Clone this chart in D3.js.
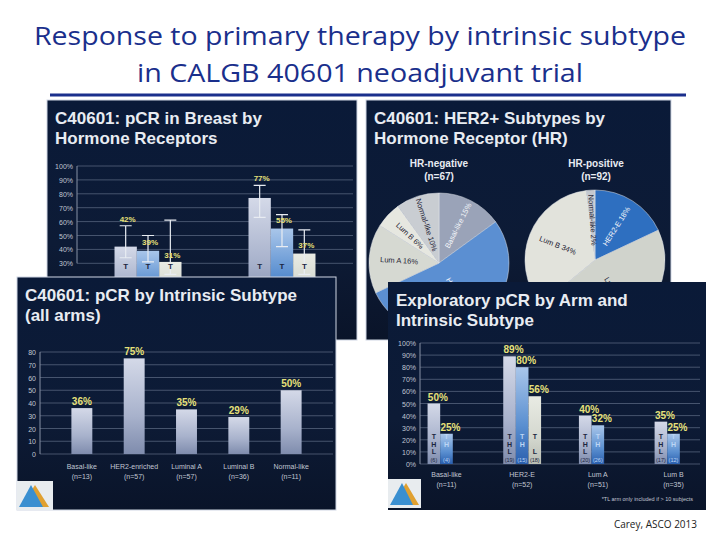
<!DOCTYPE html><html><head><meta charset="utf-8">
<script src="https://cdn.jsdelivr.net/npm/d3@7/dist/d3.min.js"></script>
<style>body{margin:0;background:#fff}svg{display:block}</style></head><body>
<svg id="s" width="720" height="540"></svg>
<script>
const titleLines=["Response to primary therapy by intrinsic subtype","in CALGB 40601 neoadjuvant trial"];
// Panel A
const aGroups=["HR-negative","HR-positive"];
const aValues=[[42,39,31],[77,55,37]];
const aErr=[[[34,57],[31,50],[22,61]],[[63,86],[42,65],[22,54]]];
const aTicks=[30,40,50,60,70,80,90,100];
// Panel B
const bNegLabels=["Basal-like 15%","HER2-E 53%","Lum A 16%","Lum B 6%","Normal-like 10%"];
const bNegValues=[15,53,16,6,10];
const bPosLabels=["HER2-E 18%","Lum A 46%","Lum B 34%","Normal-like 2%"];
const bPosValues=[18,46,34,2];
// Panel C
const cCats=["Basal-like","HER2-enriched","Luminal A","Luminal B","Normal-like"];
const cN=["(n=13)","(n=57)","(n=57)","(n=36)","(n=11)"];
const cValues=[36,75,35,29,50];
const cTicks=[0,10,20,30,40,50,60,70,80];
// Panel D
const dCats=["Basal-like","HER2-E","Lum A","Lum B"];
const dN=["(n=11)","(n=52)","(n=51)","(n=35)"];
const dArms=["THL","TH","TL"];
const dValues=[[50,25,null],[89,80,56],[40,32,null],[35,25,null]];
const dCounts=[["(6)","(4)",null],["(19)","(15)","(18)"],["(20)","(26)",null],["(17)","(12)",null]];
const dTicks=[0,10,20,30,40,50,60,70,80,90,100];

const svg=d3.select("#s");
const defs=svg.append("defs");
function grad(id,c1,c2,c3){const g=defs.append("linearGradient").attr("id",id).attr("x1",0).attr("x2",0).attr("y1",0).attr("y2",1);
 g.append("stop").attr("offset","0%").attr("stop-color",c1);g.append("stop").attr("offset","60%").attr("stop-color",c2);g.append("stop").attr("offset","100%").attr("stop-color",c3);}
grad("bg","#0a1a38","#0d1b36","#0a1429");
grad("g0","#d4d9e8","#a8b2cc","#7f8cad");
grad("g1","#a9c6ea","#5a8fd0","#2a5fae");
grad("g2","#e9ebe4","#d4d8cf","#b9bdb4");
const fills=["url(#g0)","url(#g1)","url(#g2)"];
const SF="Liberation Sans, Arial, sans-serif";

svg.selectAll("text.t").data(titleLines).join("text").attr("x",360).attr("y",(d,i)=>45+i*37)
 .attr("text-anchor","middle").attr("font-family","Open Sans, sans-serif").attr("font-size",26).attr("fill","#1a2f8c")
 .attr("textLength",(d,i)=>i?446:652).attr("lengthAdjust","spacingAndGlyphs").text(d=>d);
svg.append("line").attr("x1",50).attr("x2",686).attr("y1",95).attr("y2",95).attr("stroke","#1a2f8c").attr("stroke-width",3);

function panel(x,y,w,h,title){
 const g=svg.append("g").attr("transform",`translate(${x},${y})`);
 g.append("rect").attr("width",w).attr("height",h).attr("fill","url(#bg)").attr("stroke","#cfd6e3").attr("stroke-width",1);
 title.forEach((t,i)=>g.append("text").attr("x",8).attr("y",24+i*20).attr("font-family",SF).attr("font-weight","bold").attr("font-size",17).attr("fill","#e8ecf2").text(t));
 return g;}
function yaxis(g,y,ticks,x0,x1,fmt){
 ticks.forEach(t=>{g.append("line").attr("x1",x0).attr("x2",x1).attr("y1",y(t)).attr("y2",y(t)).attr("stroke","#55637c").attr("stroke-width",0.8);
 g.append("text").attr("x",x0-4).attr("y",y(t)+3).attr("text-anchor","end").attr("font-family",SF).attr("font-size",7).attr("fill","#c0c6d2").text(fmt(t));});
 g.append("line").attr("x1",x0).attr("x2",x0).attr("y1",y(ticks[ticks.length-1])).attr("y2",y(ticks[0])).attr("stroke","#8792a6");}

// Panel A
{const g=panel(47,100,310,240,["C40601: pCR in Breast by","Hormone Receptors"]);
 const y=d3.scaleLinear().domain([0,100]).range([205,66]);
 yaxis(g,y,aTicks,30,306,d=>d+"%");
 const x0=d3.scaleBand().domain(aGroups).range([30,306]).paddingInner(0.5).paddingOuter(0.28);
 const x1=d3.scaleBand().domain([0,1,2]).range([0,x0.bandwidth()]);
 aGroups.forEach((gr,gi)=>aValues[gi].forEach((v,i)=>{const bx=x0(gr)+x1(i),bw=x1.bandwidth(),cx=bx+bw/2;
  g.append("rect").attr("x",bx).attr("y",y(v)).attr("width",bw).attr("height",y(0)-y(v)).attr("fill",fills[i]);
  const e=aErr[gi][i];
  g.append("path").attr("d",`M${cx},${y(e[0])}V${y(e[1])}M${cx-6},${y(e[0])}h12M${cx-6},${y(e[1])}h12`).attr("stroke","#e8ecf2").attr("stroke-width",1.2).attr("fill","none");
  const ly = i==0 ? y(e[1])-4 : (i==2&&gi==0 ? y(v)-4 : y(v)-6);
  g.append("text").attr("x",cx+2).attr("y",ly).attr("text-anchor","middle").attr("font-family",SF).attr("font-weight","bold").attr("font-size",8).attr("fill","#e6e07a").text(v+"%");
  g.append("text").attr("x",cx).attr("y",y(26)).attr("text-anchor","middle").attr("font-family",SF).attr("font-weight","bold").attr("font-size",8).attr("fill","#1b2540").text("T");
 }));}

// Panel B
{const g=panel(366,100,305,240,["C40601: HER2+ Subtypes by","Hormone Receptor (HR)"]);
 [["HR-negative",73,67],["(n=67)",73,80],["HR-positive",230,67],["(n=92)",230,80]].forEach(t=>
  g.append("text").attr("x",t[1]).attr("y",t[2]).attr("text-anchor","middle").attr("font-family",SF).attr("font-weight","bold").attr("font-size",10).attr("fill","#e8ecf2").text(t[0]));
 const pie=d3.pie().sort(null);
 const arc=d3.arc().innerRadius(0).outerRadius(70);
 function drawPie(cx,cy,vals,labels,cols,dark){const pg=g.append("g").attr("transform",`translate(${cx},${cy})`);
  pie(vals).forEach((a,i)=>{pg.append("path").attr("d",arc(a)).attr("fill",cols[i]).attr("stroke","#e0e4ea").attr("stroke-width",0.5);
   const mid=(a.startAngle+a.endAngle)/2;const r=i==0&&labels.length==5?42:40;
   const px=Math.sin(mid)*r,py=-Math.cos(mid)*r;
   let rot=mid*180/Math.PI-90; if(rot>90)rot-=180;
   pg.append("text").attr("transform",`translate(${px},${py}) rotate(${rot})`).attr("text-anchor","middle").attr("dy","0.35em").attr("font-family",SF).attr("font-size",7.5)
    .attr("fill",dark[i]?"#f4f6fa":"#1d2233").text(labels[i]);});}
 drawPie(73,163,bNegValues,bNegLabels,["#9aa3b8","#5b8fd2","#d6d9d2","#e6e7e0","#c9cdd2"],[1,1,0,0,0]);
 drawPie(229,160,bPosValues,bPosLabels,["#2e6fc0","#d0d3cc","#e2e3dc","#c3c8cf"],[1,0,0,0]);}

// Panel C
{const g=panel(17,277,319,233,["C40601: pCR by Intrinsic Subtype","(all arms)"]);
 const y=d3.scaleLinear().domain([0,80]).range([177,75]);
 yaxis(g,y,cTicks,23,316,d=>d);
 const x=d3.scaleBand().domain(cCats).range([23,316]).padding(0.6);
 cCats.forEach((c,i)=>{const v=cValues[i];
  g.append("rect").attr("x",x(c)).attr("y",y(v)).attr("width",x.bandwidth()).attr("height",y(0)-y(v)).attr("fill","url(#g0)");
  g.append("text").attr("x",x(c)+x.bandwidth()/2).attr("y",y(v)-3).attr("text-anchor","middle").attr("font-family",SF).attr("font-weight","bold").attr("font-size",10).attr("fill","#e6e07a").text(v+"%");
  g.append("text").attr("x",x(c)+x.bandwidth()/2).attr("y",192).attr("text-anchor","middle").attr("font-family",SF).attr("font-size",7).attr("fill","#c0c6d2").text(c);
  g.append("text").attr("x",x(c)+x.bandwidth()/2).attr("y",202).attr("text-anchor","middle").attr("font-family",SF).attr("font-size",7).attr("fill","#c0c6d2").text(cN[i]);});
 const lg=g.append("g").attr("transform","translate(0,204)");
 lg.append("rect").attr("width",36).attr("height",29).attr("fill","#e8ecef");
 lg.append("path").attr("d","M18,4L32,26H4Z").attr("fill","#e0a030");lg.append("path").attr("d","M14,4L26,26H2Z").attr("fill","#3a8fd0");}

// Panel D
{const g=panel(388,282,318,228,["Exploratory pCR by Arm and","Intrinsic Subtype"]);
 g.select("rect").attr("stroke","none");
 const y=d3.scaleLinear().domain([0,100]).range([182,61]);
 yaxis(g,y,dTicks,32,312,d=>d+"%");
 const x0=d3.scaleBand().domain(dCats).range([32,312]).paddingInner(0.5).paddingOuter(0.1);
 const x1=d3.scaleBand().domain(dArms).range([0,x0.bandwidth()]);
 dCats.forEach((c,ci)=>{dValues[ci].forEach((v,i)=>{if(v==null)return;const bx=x0(c)+x1(dArms[i]),bw=x1.bandwidth(),cx=bx+bw/2;
   g.append("rect").attr("x",bx).attr("y",y(v)).attr("width",bw).attr("height",y(0)-y(v)).attr("fill",fills[i]);
   g.append("text").attr("x",cx+4).attr("y",y(v)-3).attr("text-anchor","middle").attr("font-family",SF).attr("font-weight","bold").attr("font-size",10).attr("fill","#e6e07a").text(v+"%");
   const col=i==1?"#bcd6f5":"#1b2540";
   dArms[i].split("").forEach((L,li)=>g.append("text").attr("x",cx).attr("y",y(0)-25+(L=="L"?2:li)*7.5).attr("text-anchor","middle").attr("font-family",SF).attr("font-weight","bold").attr("font-size",7).attr("fill",col).text(L));
   g.append("text").attr("x",cx).attr("y",y(0)-2).attr("text-anchor","middle").attr("font-family",SF).attr("font-size",5.5).attr("fill",col).text(dCounts[ci][i]);});
  const mx=x0(c)+x0.bandwidth()/2;
  g.append("text").attr("x",mx).attr("y",195).attr("text-anchor","middle").attr("font-family",SF).attr("font-size",7).attr("fill","#c0c6d2").text(c);
  g.append("text").attr("x",mx).attr("y",205).attr("text-anchor","middle").attr("font-family",SF).attr("font-size",7).attr("fill","#c0c6d2").text(dN[ci]);});
 g.append("text").attr("x",305).attr("y",219).attr("text-anchor","end").attr("font-family",SF).attr("font-size",5.5).attr("fill","#c0c6d2").text("*TL arm only included if > 10 subjects");
 const lg=g.append("g").attr("transform","translate(0,197)");
 lg.append("rect").attr("width",33).attr("height",29).attr("fill","#e8ecef");
 lg.append("path").attr("d","M18,4L31,26H5Z").attr("fill","#e0a030");lg.append("path").attr("d","M14,4L25,26H2Z").attr("fill","#3a8fd0");}

svg.append("text").attr("x",697).attr("y",528).attr("text-anchor","end").attr("font-family","Open Sans, sans-serif").attr("font-size",10).attr("fill","#222").text("Carey, ASCO 2013");
</script></body></html>
